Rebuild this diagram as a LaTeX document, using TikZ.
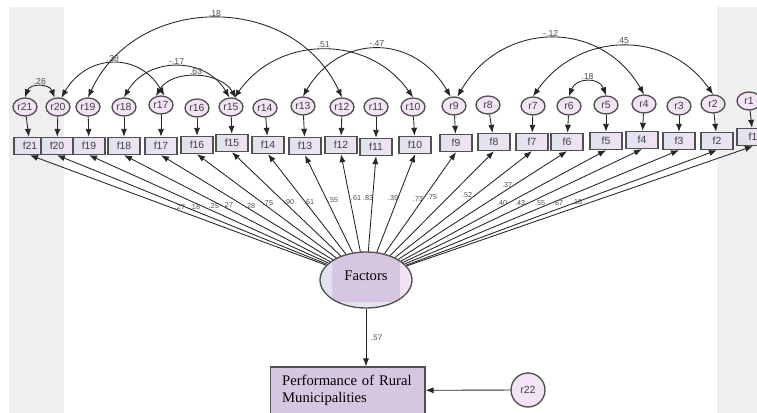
\documentclass[tikz,border=0pt]{standalone}
\usepackage{fontspec}
\setmainfont{Liberation Serif}
\setsansfont{Liberation Sans}
\usetikzlibrary{arrows.meta,shapes.geometric}

% colours of the diagram
\definecolor{panelgray}{HTML}{EFEFEF}
\definecolor{boxleft}{HTML}{E0E2EE}
\definecolor{boxright}{HTML}{F1E2F2}
\definecolor{resfill}{HTML}{F2E4F4}
\definecolor{facpurple}{HTML}{D6C6E1}
\definecolor{framegray}{HTML}{505050}

\tikzset{
  obsbox/.style={draw=framegray, line width=1pt, left color=boxleft, right color=boxright,
    minimum width=24pt, minimum height=12.75pt, inner sep=0pt,
    font=\sffamily\fontsize{7.8}{8}\selectfont, text=black!75},
  resid/.style={ellipse, draw=framegray, line width=1pt, fill=resfill,
    minimum width=18pt, minimum height=13.5pt, inner sep=0pt,
    font=\sffamily\fontsize{7.8}{8}\selectfont, text=black!75},
  latent/.style={ellipse, draw=framegray, line width=1pt, minimum width=69pt,
    minimum height=42pt, inner sep=0pt, font=\fontsize{11}{13}\selectfont},
  outcome/.style={rectangle, draw=framegray, line width=1pt, fill=facpurple,
    minimum height=35.25pt, inner xsep=9pt, text width=98pt, align=left,
    font=\fontsize{11}{12.75}\selectfont},
  loadarrow/.style={-{Latex[length=6pt,width=4.6pt]}, line width=0.65pt, draw=black!85},
  covar/.style={{Latex[length=6pt,width=4.6pt]}-{Latex[length=6pt,width=4.6pt]}, line width=0.65pt, draw=black!85},
  coef/.style={font=\sffamily\fontsize{5.4}{6}\selectfont, text=black!70, inner sep=0.5pt},
  covlab/.style={font=\sffamily\fontsize{6.5}{7}\selectfont, text=black!70, inner sep=1.5pt}
}

\begin{document}
\begin{tikzpicture}[x=0.75pt,y=0.75pt]
    % frame of the picture
    \clip (0,0) rectangle (757,-413);
    % gray side panels
    \fill[panelgray] (9,-7) rectangle (64,-413);
    \fill[panelgray] (717,-7) rectangle (757,-413);

    % Latent factor (ellipse with the purple patch)
    \begin{scope}
        \clip (366,-280) ellipse (46 and 28);
        \fill[left color=boxleft, right color=boxright] (320,-252) rectangle (412,-308);
        \fill[facpurple] (332,-252) rectangle (400,-302);
    \end{scope}
    \node[latent] (fac) at (366,-280) {\raisebox{6pt}{Factors}};

    % Observed items, their residuals and the loadings
    \foreach \i/\bx/\by/\rx/\ry/\lx/\ly/\val in {
        21/30/146/25/107/180/207/.27, 20/57/146/58/107/195/207/.18,
        19/89/146/88/107/214/206/.25, 18/124/146/124/107/228/205/.27,
        17/161/146/161/105/250/206/.28, 16/197/145/197/108/268/203/.75,
        15/232/143/231/107/289/202/.90, 14/268/145/265/108/309/202/.61,
        13/305/146/303/106/333/200/.55, 12/341/145/342/107/356/198/.61,
        11/376/147/376/107/368/198/.83, 10/415/145/413/107/393/198/.39,
        9/456/143/454/106/418/199/.73, 8/494/142/488/105/432/197/.75,
        7/532/142/533/106/467/195/.52, 6/567/142/569/106/507/185/.37,
        5/606/141/606/105/502/203/.40, 4/642/140/644/104/520/203/.43,
        3/679/141/679/106/540/203/.55, 2/717/141/713/104/558/203/.67,
        1/753/137/749/101/577/202/.18}{
        \node[obsbox] (f\i) at (\bx,-\by) {f\i};
        \node[resid] (r\i) at (\rx,-\ry) {r\i};
        \draw[loadarrow] (r\i) -- (f\i);
        \draw[loadarrow] (fac) -- (f\i.south);
        \node[coef] (l\i) at (\lx,-\ly) {\val};
    }

    % Correlated residuals
    \draw[covar] (r21.north) to[out=70,in=110,looseness=1.3] node[covlab,above] {.26} (r20.110);
    \draw[covar] (r20.70) to[out=60,in=120,looseness=1.26] node[covlab,above] {.38} (r17.70);
    \draw[covar] (r19.north) to[out=65,in=115,looseness=1.17] node[covlab,above] {.18} (r12.north);
    \draw[covar] (r18.north) to[out=60,in=120,looseness=1.15] node[covlab,above] {-.17} (r15.100);
    \draw[covar] (r17.120) to[out=60,in=120,looseness=1.0] node[covlab,above] {.63} (r15.60);
    \draw[covar] (r15.70) to[out=55,in=125,looseness=1.1] node[covlab,above] {.51} (r10.north);
    \draw[covar] (r13.north) to[out=60,in=120,looseness=1.26] node[covlab,above] {-.47} (r9.110);
    \draw[covar] (r9.70) to[out=60,in=120,looseness=1.2] node[covlab,above] {-.12} (r4.north);
    \draw[covar] (r7.north) to[out=55,in=125,looseness=1.13] node[covlab,above] {.45} (r2.north);
    \draw[covar] (r6.north) to[out=70,in=110,looseness=1.37] node[covlab,above] {.18} (r5.north);

    % Outcome and its residual
    \node[outcome] (perf) at (347.5,-390.5) {Performance of Rural\\Municipalities};
    \node[resid, circle, minimum size=25.5pt] (r22) at (528,-390) {r22};
    \draw[loadarrow] (fac.south) -- node[coef, right=3pt, font=\sffamily\fontsize{6}{7}\selectfont] {.57} (fac.south |- perf.north);
    \draw[loadarrow] (r22) -- (perf);
\end{tikzpicture}
\end{document}
